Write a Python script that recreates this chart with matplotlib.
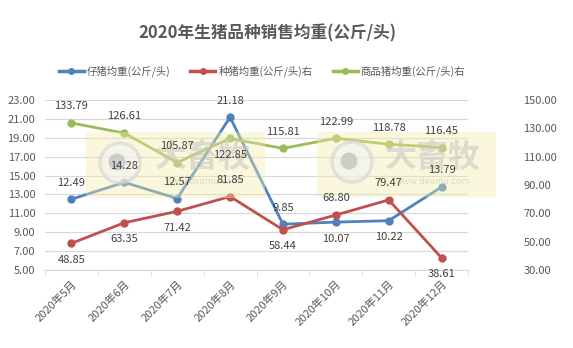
#!/usr/bin/env python3
# -*- coding: utf-8 -*-

import numpy as np
import matplotlib
matplotlib.use('Agg')
import matplotlib.pyplot as plt
from matplotlib.patches import Rectangle, Ellipse
from matplotlib.lines import Line2D

plt.rcParams['font.family'] = ['Noto Sans CJK SC', 'DejaVu Sans']

months = ['2020年5月', '2020年6月', '2020年7月', '2020年8月',
          '2020年9月', '2020年10月', '2020年11月', '2020年12月']
piglet = [12.49, 14.28, 12.57, 21.18, 9.85, 10.07, 10.22, 13.79]
breeder = [48.85, 63.35, 71.42, 81.85, 58.44, 68.80, 79.47, 38.61]
market = [133.79, 126.61, 105.87, 122.85, 115.81, 122.99, 118.78, 116.45]

# label above (+1) or below (-1) each point
piglet_side = [1, 1, 1, 1, 1, -1, -1, 1]
breeder_side = [-1, -1, -1, 1, -1, 1, 1, -1]
market_side = [1, 1, 1, -1, 1, 1, 1, 1]

BLUE = '#4F81BD'
RED = '#C0504D'
GREEN = '#9BBB59'
TXT = '#404040'
TICK = '#595959'

W, H = 573, 348


def fx(px):
    return px / W


def fy(py):
    return 1 - py / H


fig = plt.figure(figsize=(W / 100, H / 100), dpi=100)
ax = fig.add_axes([fx(45), fy(270), (468 - 45) / W, (270 - 100) / H])
ax2 = ax.twinx()

x = np.arange(len(months))

ax.set_xlim(-0.5, len(months) - 0.5)
ax.set_ylim(5, 23)
ax.set_yticks(np.arange(5, 23.1, 2))
ax.set_yticklabels(['%.2f' % v for v in np.arange(5, 23.1, 2)])
ax2.set_ylim(30, 150)
ax2.set_yticks(np.arange(30, 151, 20))
ax2.set_yticklabels(['%.2f' % v for v in np.arange(30, 151, 20)])

ax.yaxis.grid(True, color='#D9D9D9', lw=0.9)
ax.set_axisbelow(True)
for a in (ax, ax2):
    for s in a.spines.values():
        s.set_visible(False)
ax.spines['bottom'].set_visible(True)
ax.spines['bottom'].set_color('#D9D9D9')

ax.set_xticks(x)
ax.set_xticklabels(months, rotation=45, ha='right', rotation_mode='anchor',
                   fontsize=8, color=TICK)
ax.set_xticks(np.arange(-0.5, len(months), 1), minor=True)
ax.tick_params(axis='x', which='major', length=0, pad=6)
ax.tick_params(axis='x', which='minor', length=4, color='#D9D9D9')
ax.tick_params(axis='y', length=0, labelsize=8, labelcolor=TICK, pad=7)
ax2.tick_params(axis='y', length=0, labelsize=8, labelcolor=TICK, pad=40)

lw = 2.0
ms = 5
ax.plot(x, piglet, color=BLUE, lw=lw, marker='o', ms=ms, zorder=3)
ax2.plot(x, breeder, color=RED, lw=lw, marker='o', ms=ms, zorder=3)
ax2.plot(x, market, color=GREEN, lw=lw, marker='o', ms=ms, zorder=3)

# watermark blocks, drawn in the upper axes so they cover the lines
for (x0, x1, y0, y1, cx, cy, tx, ty) in [(86, 265, 132, 198, 120, 163, 203, 158),
                                         (317, 496, 132, 197, 352, 162, 433, 158)]:
    ax2.add_artist(Rectangle((fx(x0), fy(y1)), (x1 - x0) / W, (y1 - y0) / H,
                             transform=fig.transFigure, color='#F3EDA8',
                             alpha=0.4, lw=0, zorder=4, clip_on=False))
    ax2.add_artist(Ellipse((fx(cx), fy(cy)), 40 / W, 40 / H,
                           transform=fig.transFigure, facecolor='#F2F2F2',
                           edgecolor='#D4D4D4', lw=2.5, alpha=0.6, zorder=4,
                           clip_on=False))
    ax2.add_artist(Ellipse((fx(cx - 3), fy(cy - 1)), 17 / W, 17 / H,
                           transform=fig.transFigure, facecolor='#B4B4B4',
                           lw=0, alpha=0.6, zorder=4, clip_on=False))
    ax2.text(fx(tx), fy(ty), '大畜牧', fontsize=23, fontweight='bold',
             color='#C4C4C4', alpha=0.55, ha='center', va='center', zorder=4,
             transform=fig.transFigure)
    ax2.text(fx(tx), fy(ty + 24), 'www.dxumu.com', fontsize=6.5,
             color='#C4C4C4', alpha=0.6, ha='center', va='center', zorder=4,
             transform=fig.transFigure)


def put_labels(src, vals, sides):
    for xi, v, s in zip(x, vals, sides):
        ax2.annotate('%.2f' % v, (xi, v), xycoords=src.transData,
                     xytext=(0, 12 * s), textcoords='offset points',
                     ha='center', va='center', fontsize=8, color=TXT, zorder=6)


put_labels(ax, piglet, piglet_side)
put_labels(ax2, breeder, breeder_side)
put_labels(ax2, market, market_side)

fig.text(fx(267), fy(33), '2020年生猪品种销售均重(公斤/头)', fontsize=12,
         fontweight='bold', color=TICK, ha='center', va='center')

handles = [Line2D([], [], color=c, lw=2.5, marker='o', ms=4) for c in (BLUE, RED, GREEN)]
names = ['仔猪均重(公斤/头)', '种猪均重(公斤/头)右', '商品猪均重(公斤/头)右']
leg = fig.legend(handles, names, loc='center', bbox_to_anchor=(fx(262), fy(71)),
                 ncol=3, frameon=False, fontsize=7.5, handlelength=2.4,
                 handletextpad=0.3, columnspacing=1.9)
for t in leg.get_texts():
    t.set_color(TICK)

fig.savefig('out.png', dpi=100)
